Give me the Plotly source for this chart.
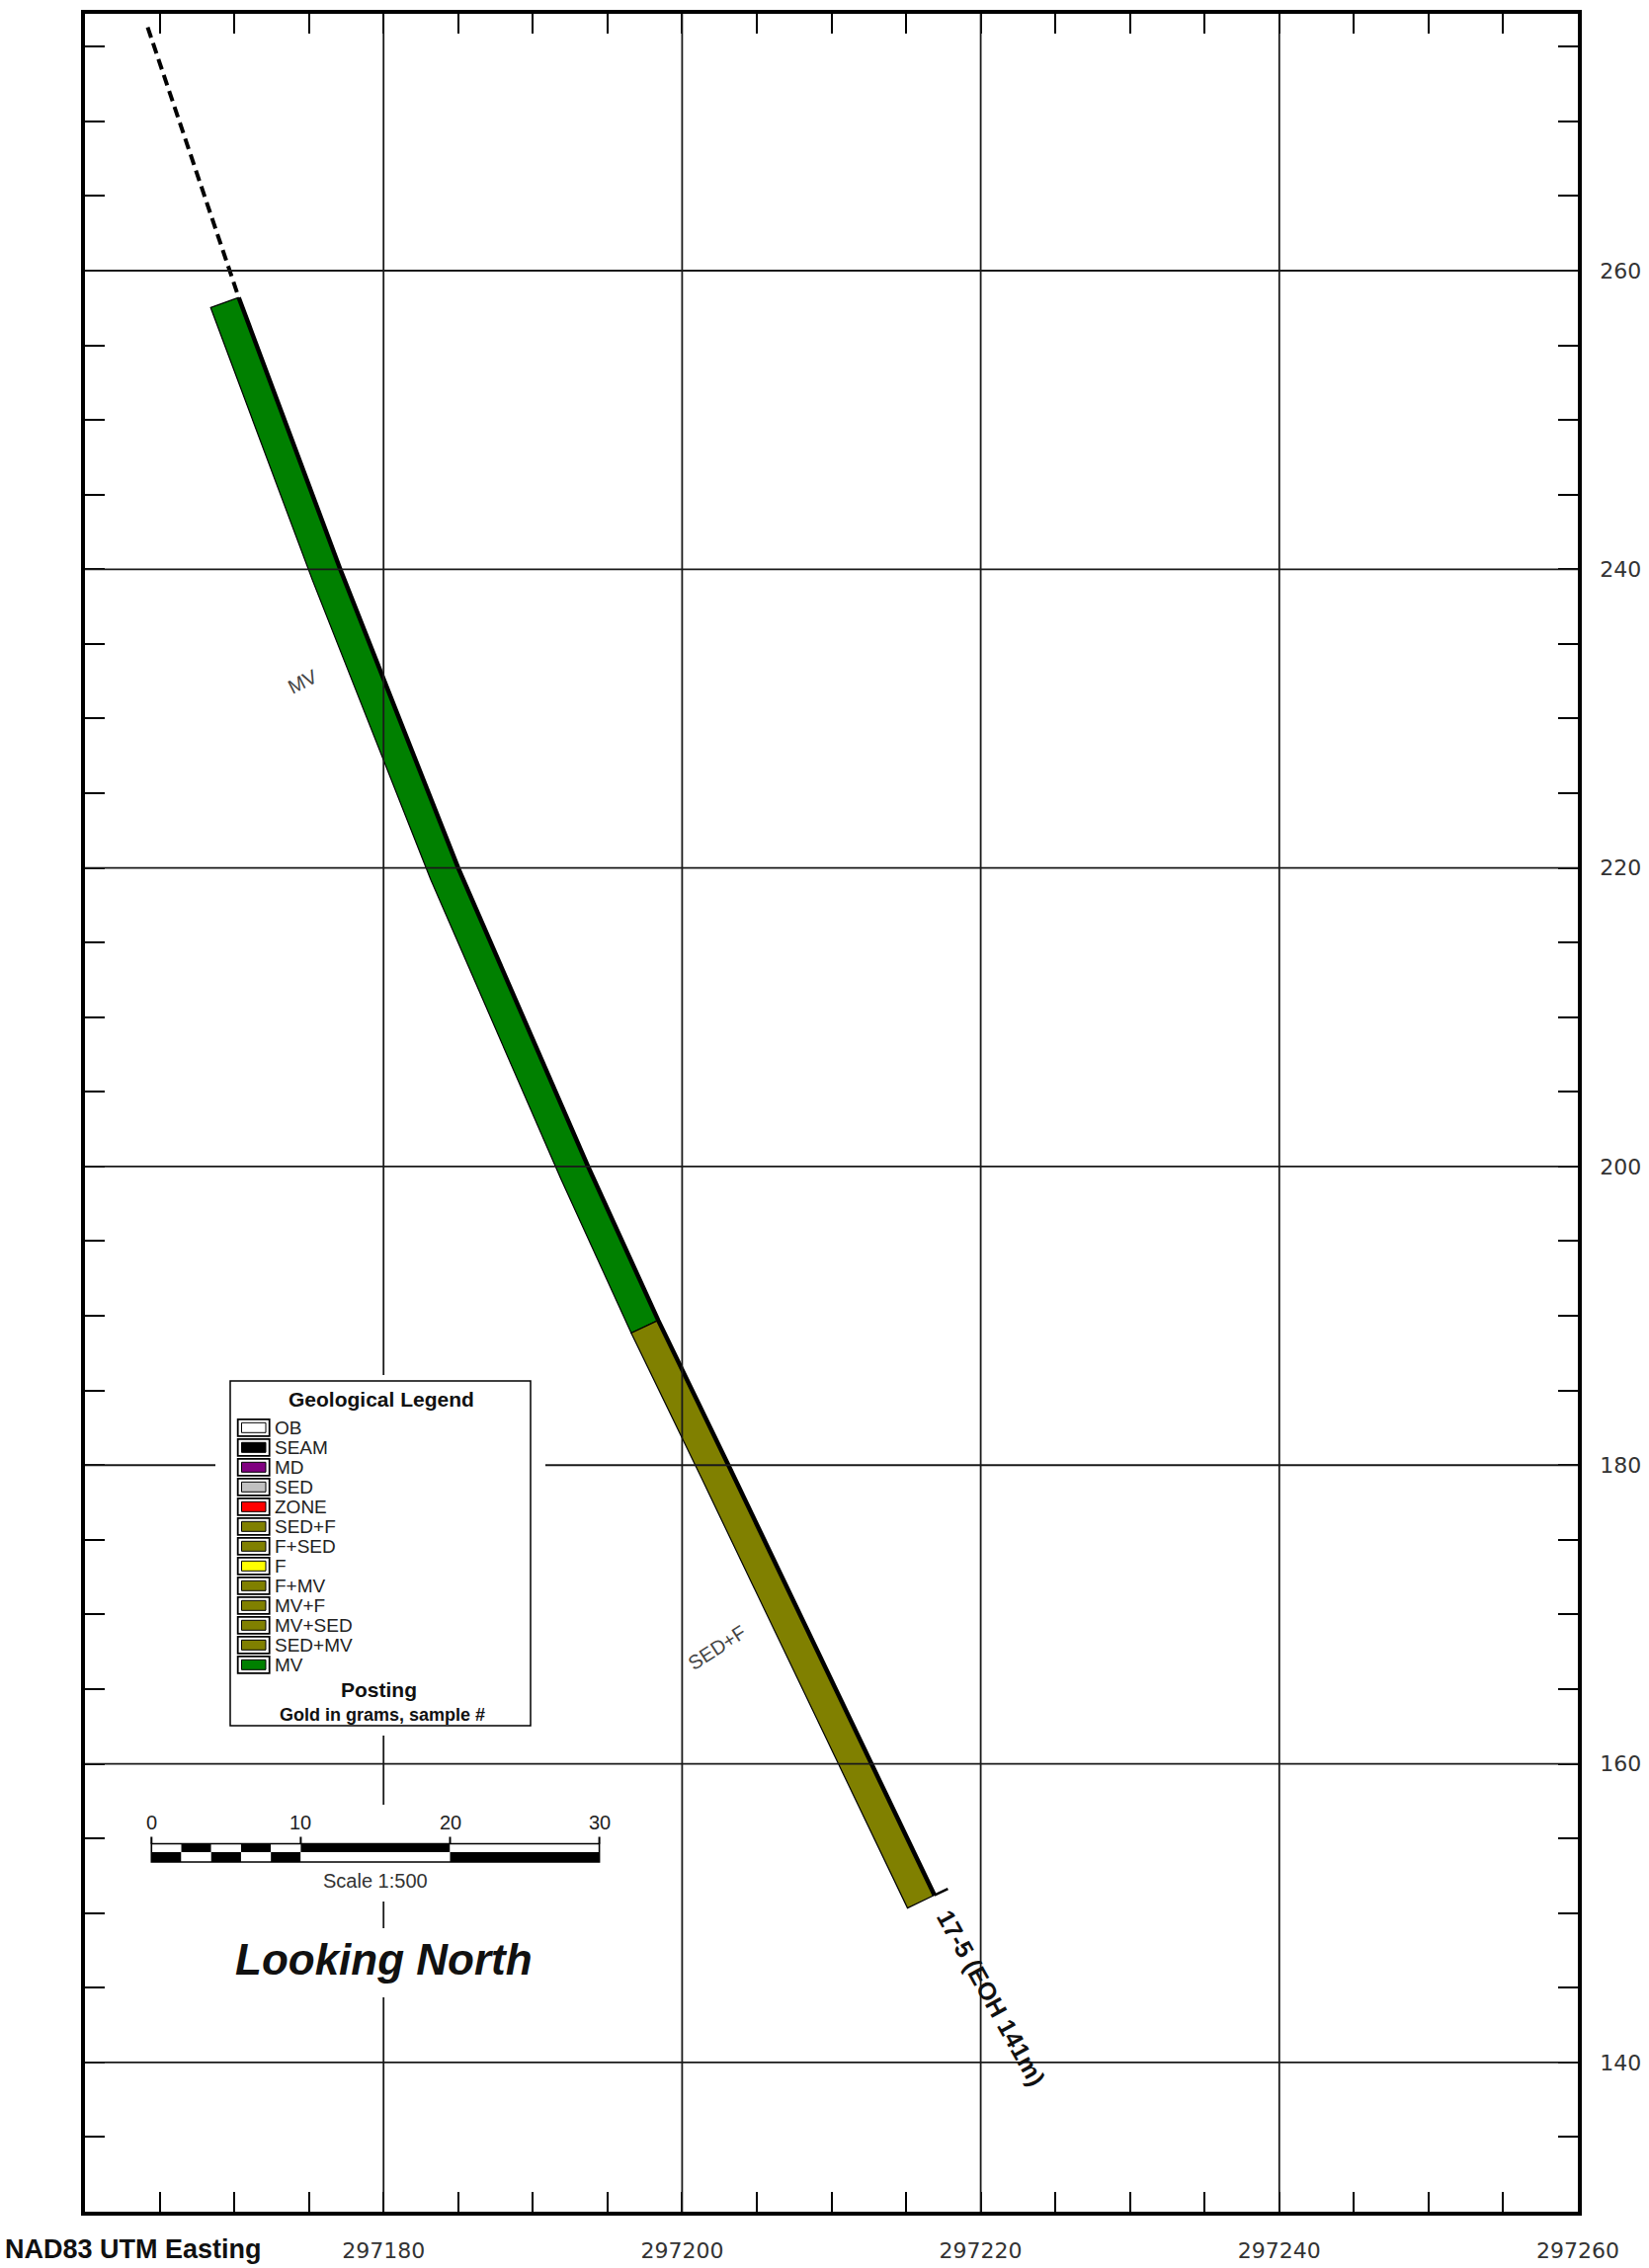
import numpy as np
import plotly.graph_objects as go

# ---------------- data ----------------
# drill-hole trace (survey): easting / elevation, collar first
trace_east = [297164.2, 297170.3, 297177.1, 297185.0, 297193.7, 297198.4, 297203.1, 297216.9]
trace_elev = [276.3, 258.2, 240.0, 220.0, 200.0, 189.7, 180.0, 151.2]

# logged lithology intervals (elevation along the hole)
lith_codes = ["MV", "SED+F"]
lith_top = [258.2, 189.7]
lith_bottom = [189.7, 151.2]
lith_label_elev = [232.5, 167.8]

# geological legend
legend_codes = ["OB", "SEAM", "MD", "SED", "ZONE", "SED+F", "F+SED", "F", "F+MV",
                "MV+F", "MV+SED", "SED+MV", "MV"]
legend_colors = ["#ffffff", "#000000", "#800080", "#c0c0c0", "#ff0000", "#808000", "#808000",
                 "#ffff00", "#808000", "#808000", "#808000", "#808000", "#008000"]

x_ticks = [297180, 297200, 297220, 297240, 297260]
y_ticks = [140, 160, 180, 200, 220, 240, 260]
scale_marks = [0, 10, 20, 30]
scale_fine = [0, 2, 4, 6, 8, 10, 20, 30]
hole_label = "17-5 (EOH 141m)"

# ---------------- layout constants ----------------
W, H = 1669, 2296
ML, MR, MT, MB = 86, 72, 14, 57
PW, PH = W - ML - MR, H - MT - MB
X_RANGE = [297160, 297260]
Y_RANGE = [130.0, 277.2]
SX = PW / (X_RANGE[1] - X_RANGE[0])
SY = PH / (Y_RANGE[1] - Y_RANGE[0])
ARIAL = "Arial, Liberation Sans, sans-serif"
BAR_W = 2.0       # width of the lithology ribbon (m)
TICK_END = 1.0    # end-of-hole tick (m)
code_color = dict(zip(legend_codes, legend_colors))


def pxx(p):
    return (p - ML) / PW


def pxy(p):
    return (H - MB - p) / PH


def dxx(p):
    return X_RANGE[0] + (p - ML) / SX


def dyy(p):
    return Y_RANGE[1] - (p - MT) / SY


te = np.array(trace_east)
tz = np.array(trace_elev)


def east_at(z):
    return float(np.interp(z, tz[::-1], te[::-1]))


def normal_left(z, h=0.5):
    za = min(z + h, tz[0])
    zb = max(z - h, tz[-1])
    dx = east_at(zb) - east_at(za)
    dz = zb - za
    n = np.hypot(dx, dz)
    tx, tzz = dx / n, dz / n
    return tzz, -tx


def ribbon(top, bottom):
    zs = [top] + [z for z in trace_elev if bottom < z < top] + [bottom]
    right = [(east_at(z), z) for z in zs]
    left = []
    for z in zs:
        nx, nz = normal_left(z)
        left.append((east_at(z) + BAR_W * nx, z + BAR_W * nz))
    pts = right + left[::-1] + [right[0]]
    return [p[0] for p in pts], [p[1] for p in pts]


fig = go.Figure()

# lithology ribbons
for code, top, bot in zip(lith_codes, lith_top, lith_bottom):
    xs, ys = ribbon(top, bot)
    fig.add_trace(go.Scatter(x=xs, y=ys, mode="lines", fill="toself",
                             fillcolor=code_color[code],
                             line=dict(color="black", width=1.2),
                             hoverinfo="skip", showlegend=False))

# hole trace: dashed (unlogged) then solid
z_dash = [z for z in trace_elev if z > lith_top[0]] + [lith_top[0]]
fig.add_trace(go.Scatter(x=[east_at(z) for z in z_dash], y=z_dash, mode="lines",
                         line=dict(color="black", width=4, dash="11px,6px"),
                         hoverinfo="skip", showlegend=False))
z_sol = [lith_top[0]] + [z for z in trace_elev if z < lith_top[0]]
fig.add_trace(go.Scatter(x=[east_at(z) for z in z_sol], y=z_sol, mode="lines",
                         line=dict(color="black", width=4.5),
                         hoverinfo="skip", showlegend=False))
# end-of-hole tick
zend = trace_elev[-1]
nx, nz = normal_left(zend)
fig.add_trace(go.Scatter(x=[east_at(zend), east_at(zend) - TICK_END * nx],
                         y=[zend, zend - TICK_END * nz], mode="lines",
                         line=dict(color="black", width=2.5),
                         hoverinfo="skip", showlegend=False))

shapes = []
# grid lines drawn above the ribbon
for xv in x_ticks:
    if X_RANGE[0] < xv < X_RANGE[1]:
        shapes.append(dict(type="line", xref="x", yref="y", x0=xv, x1=xv,
                           y0=Y_RANGE[0], y1=Y_RANGE[1], layer="above",
                           line=dict(color="#1a1a1a", width=1.8)))
for yv in y_ticks:
    shapes.append(dict(type="line", xref="x", yref="y", y0=yv, y1=yv,
                       x0=X_RANGE[0], x1=X_RANGE[1], layer="above",
                       line=dict(color="#1a1a1a", width=1.8)))


def prect(x0, y0, x1, y1, fill="white", lc=None, lw=0):
    d = dict(type="rect", xref="paper", yref="paper", x0=pxx(x0), x1=pxx(x1),
             y0=pxy(y1), y1=pxy(y0), fillcolor=fill, layer="above",
             line=dict(width=lw, color=lc if lc else fill))
    return d


def ptext(x, y, text, size, color="#111", family=ARIAL, xanchor="center", **kw):
    d = dict(xref="paper", yref="paper", x=pxx(x), y=pxy(y), text=text, showarrow=False,
             xanchor=xanchor, yanchor="middle",
             font=dict(family=family, size=size, color=color))
    d.update(kw)
    return d


# white knock-out areas
shapes.append(prect(218, 1392, 552, 1757))
shapes.append(prect(135, 1827, 628, 1925))
shapes.append(prect(228, 1952, 548, 2022))
# legend box
shapes.append(prect(233, 1398, 537, 1747, fill="white", lc="black", lw=1.5))
annotations = []
row0, drow = 1445.3, 20.0
for i, (code, col) in enumerate(zip(legend_codes, legend_colors)):
    cy = row0 + drow * i
    shapes.append(prect(240.7, cy - 8.5, 272.7, cy + 8.5, fill="white", lc="black", lw=1.8))
    shapes.append(prect(244.5, cy - 5, 269.0, cy + 5, fill=col, lc="black", lw=1.0))
    annotations.append(ptext(276.0, cy + 0.5, code, 19, color="#222", xanchor="left"))
annotations.append(ptext(385.5, 1416, "<b>Geological Legend</b>", 21))
annotations.append(ptext(383, 1710, "<b>Posting</b>", 21))
annotations.append(ptext(387, 1736, "<b>Gold in grams, sample #</b>", 18))

# scale bar (data units)
sb_x0 = dxx(153.3)
sb_top, sb_mid, sb_bot, sb_tick = dyy(1866.5), dyy(1875.0), dyy(1885.0), dyy(1859.5)
for k in range(len(scale_fine) - 1):
    a, b = sb_x0 + scale_fine[k], sb_x0 + scale_fine[k + 1]
    top_col = "white" if k % 2 == 0 else "black"
    bot_col = "black" if k % 2 == 0 else "white"
    shapes.append(dict(type="rect", xref="x", yref="y", x0=a, x1=b, y0=sb_mid, y1=sb_top,
                       fillcolor=top_col, line=dict(width=0), layer="above"))
    shapes.append(dict(type="rect", xref="x", yref="y", x0=a, x1=b, y0=sb_bot, y1=sb_mid,
                       fillcolor=bot_col, line=dict(width=0), layer="above"))
shapes.append(dict(type="rect", xref="x", yref="y", x0=sb_x0, x1=sb_x0 + scale_marks[-1],
                   y0=sb_bot, y1=sb_top, fillcolor="rgba(0,0,0,0)",
                   line=dict(width=1.6, color="black"), layer="above"))
for m in scale_marks:
    shapes.append(dict(type="line", xref="x", yref="y", x0=sb_x0 + m, x1=sb_x0 + m,
                       y0=sb_top, y1=sb_tick, line=dict(width=2, color="black"), layer="above"))
    annotations.append(dict(xref="x", yref="y", x=sb_x0 + m, y=dyy(1845), text=str(m),
                            showarrow=False, xanchor="center", yanchor="middle",
                            font=dict(family=ARIAL, size=20, color="#222")))
annotations.append(dict(xref="x", yref="y", x=sb_x0 + scale_marks[-1] / 2, y=dyy(1904),
                        text="Scale 1:500", showarrow=False, xanchor="center", yanchor="middle",
                        font=dict(family=ARIAL, size=20, color="#333")))
annotations.append(ptext(388, 1983, "<b><i>Looking North</i></b>", 44))
annotations.append(ptext(3, 2277, "<b>NAD83 UTM Easting</b>", 27, xanchor="left"))

# lithology labels
label_shift = [-83, -100]
label_angle = [-27, -33]
for code, z, sh, ang in zip(lith_codes, lith_label_elev, label_shift, label_angle):
    annotations.append(dict(xref="x", yref="y", x=east_at(z), y=z, xshift=sh, text=code,
                            textangle=ang, showarrow=False, xanchor="center", yanchor="middle",
                            font=dict(family=ARIAL, size=20, color="#444")))
# hole label at end of hole
annotations.append(dict(xref="x", yref="y", x=east_at(zend), y=zend, xshift=58, yshift=-104,
                        text="<b>" + hole_label + "</b>", textangle=61, showarrow=False,
                        xanchor="center", yanchor="middle",
                        font=dict(family=ARIAL, size=25, color="#111")))

axis_common = dict(ticks="inside", ticklen=20, tickwidth=2, tickcolor="black",
                   showgrid=False, zeroline=False, showline=True, linecolor="black",
                   linewidth=3.5, mirror="allticks", fixedrange=True, automargin=False,
                   tickfont=dict(family="DejaVu Sans", size=22, color="#333"))

fig.update_layout(
    width=W, height=H,
    margin=dict(l=ML, r=MR, t=MT, b=MB, pad=0, autoexpand=False),
    paper_bgcolor="white", plot_bgcolor="white",
    showlegend=False,
    xaxis=dict(range=X_RANGE, tickmode="array", tickvals=x_ticks,
               ticktext=[str(v) for v in x_ticks], ticklabelstandoff=17,
               minor=dict(ticks="inside", tickmode="linear", tick0=X_RANGE[0], dtick=5,
                          ticklen=20, tickwidth=2, tickcolor="black", showgrid=False),
               **axis_common),
    yaxis=dict(range=Y_RANGE, side="right", tickmode="array", tickvals=y_ticks,
               ticktext=[str(v) for v in y_ticks], ticklabelstandoff=14,
               minor=dict(ticks="inside", tickmode="linear", tick0=130, dtick=5,
                          ticklen=20, tickwidth=2, tickcolor="black", showgrid=False),
               **axis_common),
    shapes=shapes,
    annotations=annotations,
)

fig.write_html("out.html")
